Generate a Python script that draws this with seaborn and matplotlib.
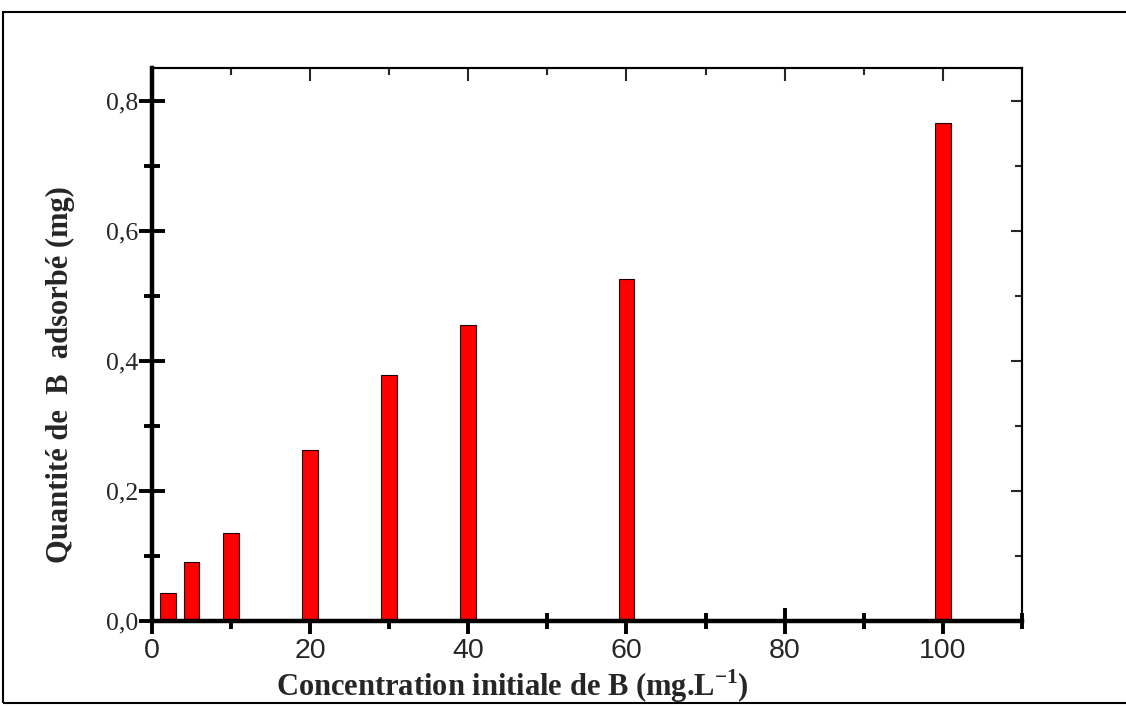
import matplotlib
matplotlib.use("Agg")
import matplotlib.pyplot as plt
import seaborn as sns
from matplotlib.patches import Rectangle
from matplotlib.ticker import MultipleLocator, FuncFormatter

# values
conc = [2, 5, 10, 20, 30, 40, 60, 100]          # mg/L
q_ads = [0.043, 0.091, 0.135, 0.263, 0.378, 0.455, 0.526, 0.766]  # mg

x_label = "Concentration initiale de B (mg.L$^{\\mathbf{-1}}$)"
y_label = "Quantité de  B  adsorbé (mg)"

sns.set_style("white")
plt.rcParams["mathtext.fontset"] = "custom"
plt.rcParams["mathtext.rm"] = "Liberation Serif"
plt.rcParams["mathtext.bf"] = "Liberation Serif:bold"

fig = plt.figure(figsize=(11.26, 7.07), dpi=100)
ax = fig.add_axes([0.135, 0.1216, 0.7725, 0.7822])

sns.barplot(x=conc, y=q_ads, native_scale=True, width=2 / 3, color="#ff0000",
            saturation=1, edgecolor="#200000", linewidth=0.8, errorbar=None, ax=ax)

ax.set_xlim(0, 110)
ax.set_ylim(0, 0.85)
ax.set_axisbelow(True)

# bottom / left: ticks crossing the axis
ax.xaxis.set_major_locator(MultipleLocator(20))
ax.xaxis.set_minor_locator(MultipleLocator(10))
ax.yaxis.set_major_locator(MultipleLocator(0.2))
ax.yaxis.set_minor_locator(MultipleLocator(0.1))
ax.yaxis.set_major_formatter(FuncFormatter(lambda v, p: f"{v:.1f}".replace(".", ",")))
ax.xaxis.set_major_formatter(FuncFormatter(lambda v, p: f"{v:.0f}"))
ax.tick_params(which="both", bottom=True, left=True, top=False, right=False,
               direction="inout", width=2.8, color="black")
ax.tick_params(which="major", length=19)
ax.tick_params(which="minor", length=12)
ax.tick_params(axis="y", which="major", pad=0.5)
ax.tick_params(axis="x", which="major", pad=2.5)
for lab in ax.get_yticklabels():
    lab.set_fontfamily("Liberation Serif")
    lab.set_fontsize(18.5)
for lab in ax.get_xticklabels():
    lab.set_fontfamily("Liberation Sans")
    lab.set_fontsize(20.5)

for side in ["left", "bottom"]:
    ax.spines[side].set_linewidth(3.2)
    ax.spines[side].set_color("black")
for side in ["top", "right"]:
    ax.spines[side].set_linewidth(1.5)
    ax.spines[side].set_color("black")

# top / right: inward ticks only
top = ax.secondary_xaxis("top")
top.set_xticks([20, 40, 60, 80, 100])
top.set_xticks([10, 30, 50, 70, 90], minor=True)
top.tick_params(which="both", direction="in", width=1.5, top=True, labeltop=False)
top.tick_params(which="major", length=9)
top.tick_params(which="minor", length=5)
top.spines["top"].set_linewidth(1.5)

right = ax.secondary_yaxis("right")
right.set_yticks([0.2, 0.4, 0.6, 0.8])
right.set_yticks([0.1, 0.3, 0.5, 0.7], minor=True)
right.tick_params(which="both", direction="in", width=1.5, right=True, labelright=False)
right.tick_params(which="major", length=8)
right.tick_params(which="minor", length=5)
right.spines["right"].set_linewidth(1.5)

ax.set_xlabel(x_label, fontfamily="Liberation Serif", fontweight="bold", fontsize=22)
ax.set_ylabel(y_label, fontfamily="Liberation Serif", fontweight="bold", fontsize=22)
ax.xaxis.set_label_coords(0.414, -0.083)
ax.yaxis.set_label_coords(-0.088, 0.446)

# outer frame of the figure
fig.patches.append(Rectangle((0.003, 0.006), 1.2, 0.977, transform=fig.transFigure,
                             fill=False, edgecolor="black", linewidth=1.5))

fig.savefig("out.png", dpi=100)
